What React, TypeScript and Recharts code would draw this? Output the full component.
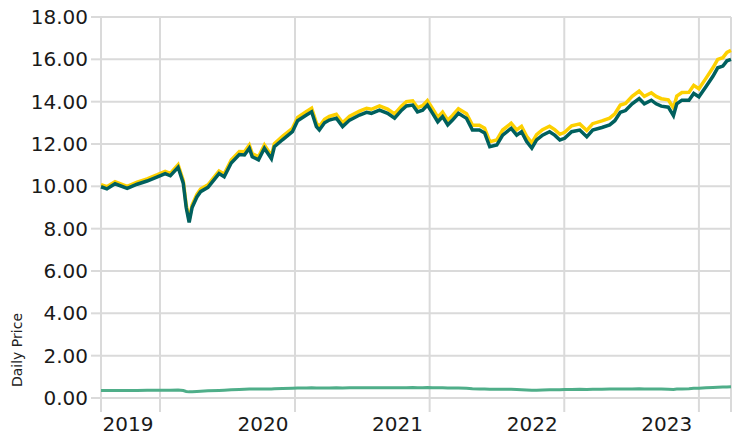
import { CartesianGrid, Label, Line, LineChart, XAxis, YAxis } from "recharts";

const dates = [
  "2019-07-25", "2019-08-10", "2019-09-01", "2019-10-04", "2019-10-31", "2019-11-27", "2019-12-25",
  "2020-01-15", "2020-01-29", "2020-02-19", "2020-03-04", "2020-03-12", "2020-03-20", "2020-03-28",
  "2020-04-10", "2020-04-20", "2020-05-10", "2020-06-09", "2020-06-23", "2020-07-12", "2020-08-03",
  "2020-08-17", "2020-08-30", "2020-09-07", "2020-09-24", "2020-10-10", "2020-10-29", "2020-11-06",
  "2020-11-28", "2020-12-25", "2021-01-08", "2021-02-01", "2021-02-15", "2021-02-28", "2021-03-08",
  "2021-03-22", "2021-04-04", "2021-04-23", "2021-05-10", "2021-05-29", "2021-06-25", "2021-07-14",
  "2021-07-27", "2021-08-18", "2021-09-09", "2021-09-28", "2021-10-17", "2021-10-30", "2021-11-16",
  "2021-11-29", "2021-12-13", "2021-12-26", "2022-01-09", "2022-01-23", "2022-02-05", "2022-02-19",
  "2022-03-04", "2022-03-20", "2022-04-11", "2022-04-27", "2022-05-16", "2022-05-30", "2022-06-13",
  "2022-07-02", "2022-07-18", "2022-08-10", "2022-08-25", "2022-09-07", "2022-09-21", "2022-10-05",
  "2022-10-18", "2022-11-03", "2022-11-22", "2022-12-06", "2022-12-20", "2023-01-02", "2023-01-21",
  "2023-02-12", "2023-03-03", "2023-03-19", "2023-04-13", "2023-05-04", "2023-05-18", "2023-06-02",
  "2023-06-16", "2023-07-04", "2023-07-23", "2023-08-06", "2023-08-25", "2023-09-07", "2023-09-21",
  "2023-10-10", "2023-10-24", "2023-11-02", "2023-11-16", "2023-12-05", "2023-12-18", "2024-01-01",
  "2024-01-20", "2024-02-08", "2024-02-21", "2024-03-06", "2024-03-17", "2024-03-28"
];

// teal line
const fund = [
  9.98, 9.88, 10.12, 9.9, 10.1, 10.25, 10.45,
  10.6, 10.5, 10.9, 10.15, 9.0, 8.3, 9.0,
  9.5, 9.75, 9.95, 10.6, 10.45, 11.1, 11.5,
  11.48, 11.8, 11.4, 11.25, 11.8, 11.3, 11.87,
  12.2, 12.58, 13.1, 13.37, 13.52, 12.82, 12.66,
  13.0, 13.13, 13.22, 12.82, 13.13, 13.37, 13.5,
  13.45, 13.6, 13.45, 13.22, 13.6, 13.8, 13.84,
  13.52, 13.6, 13.84, 13.45, 13.05, 13.29, 12.9,
  13.13, 13.45, 13.21, 12.66, 12.66, 12.52, 11.87,
  11.95, 12.42, 12.74, 12.42, 12.58, 12.11, 11.8,
  12.19, 12.42, 12.58, 12.42, 12.19, 12.27, 12.58,
  12.66, 12.34, 12.66, 12.78, 12.9, 13.1, 13.5,
  13.58, 13.9, 14.15, 13.9, 14.07, 13.9, 13.79,
  13.74, 13.34, 13.9, 14.07, 14.07, 14.39, 14.23,
  14.71, 15.2, 15.6, 15.68, 15.93, 16.0
];

// yellow line
const benchmark = [
  10.08, 9.98, 10.22, 10.0, 10.2, 10.35, 10.55,
  10.71, 10.61, 11.02, 10.27, 9.12, 8.42, 9.12,
  9.62, 9.87, 10.07, 10.72, 10.58, 11.24, 11.64,
  11.63, 11.95, 11.55, 11.4, 11.95, 11.45, 12.02,
  12.36, 12.74, 13.26, 13.54, 13.69, 12.99, 12.83,
  13.17, 13.3, 13.4, 13.0, 13.31, 13.55, 13.69,
  13.64, 13.8, 13.65, 13.42, 13.8, 14.0, 14.04,
  13.72, 13.81, 14.05, 13.67, 13.27, 13.51, 13.12,
  13.35, 13.67, 13.43, 12.89, 12.89, 12.75, 12.11,
  12.19, 12.66, 12.98, 12.67, 12.83, 12.36, 12.05,
  12.44, 12.68, 12.84, 12.68, 12.46, 12.55, 12.86,
  12.95, 12.64, 12.96, 13.09, 13.22, 13.43, 13.84,
  13.92, 14.25, 14.5, 14.25, 14.42, 14.25, 14.14,
  14.09, 13.7, 14.26, 14.43, 14.44, 14.77, 14.61,
  15.1, 15.6, 16.0, 16.08, 16.33, 16.42
];

// green line near zero
const income = [
  0.36, 0.36, 0.36, 0.36, 0.36, 0.37, 0.37,
  0.37, 0.37, 0.38, 0.35, 0.31, 0.29, 0.3,
  0.31, 0.32, 0.34, 0.36, 0.37, 0.39, 0.4,
  0.41, 0.42, 0.42, 0.42, 0.43, 0.43, 0.44,
  0.45, 0.46, 0.47, 0.47, 0.48, 0.47, 0.47,
  0.47, 0.47, 0.48, 0.47, 0.48, 0.48, 0.48,
  0.48, 0.49, 0.49, 0.48, 0.49, 0.49, 0.5,
  0.49, 0.49, 0.5, 0.49, 0.48, 0.48, 0.47,
  0.47, 0.47, 0.46, 0.44, 0.43, 0.43, 0.41,
  0.41, 0.41, 0.41, 0.4, 0.39, 0.38, 0.37,
  0.37, 0.38, 0.39, 0.39, 0.39, 0.4, 0.4,
  0.41, 0.4, 0.41, 0.41, 0.42, 0.42, 0.43,
  0.43, 0.43, 0.44, 0.43, 0.43, 0.42, 0.42,
  0.41, 0.4, 0.42, 0.43, 0.44, 0.46, 0.46,
  0.48, 0.5, 0.51, 0.52, 0.52, 0.53
];

const gridDates = ["2019-07-25", "2020-01-01", "2021-01-01", "2022-01-01", "2023-01-01", "2024-01-01", "2024-03-28"];
const yearLabelDates = ["2019-10-06", "2020-10-06", "2021-10-06", "2022-10-06", "2023-10-06"];
const yTicks = [0, 2, 4, 6, 8, 10, 12, 14, 16, 18];

const data = dates.map((d, i) => ({
  t: Date.parse(d),
  fund: fund[i],
  benchmark: benchmark[i],
  income: income[i]
}));

const gridTicks = gridDates.map((d) => Date.parse(d));
const domain = [Date.parse(dates[0]), Date.parse(dates[dates.length - 1])];
const gridColor = "#dadada";
const font = "DejaVu Sans, Verdana, sans-serif";

function YLabel({ viewBox }: any) {
  const x = viewBox.x + 17;
  const y = viewBox.y + viewBox.height - 48;
  return (
    <text
      x={x}
      y={y}
      transform={`rotate(-90 ${x} ${y})`}
      textAnchor="middle"
      dominantBaseline="central"
      fontSize={14}
      fontFamily={font}
      fill="#222"
    >
      Daily Price
    </text>
  );
}

export default function App() {
  return (
    <div style={{ position: "absolute", left: 0, top: 0, background: "#fff" }}>
      <LineChart width={737} height={435} data={data} margin={{ top: 17, right: 6, bottom: 0, left: 0 }}>
        <CartesianGrid xAxisId="g" stroke={gridColor} strokeWidth={2} verticalValues={gridTicks} />
        <XAxis
          xAxisId="g"
          dataKey="t"
          type="number"
          domain={domain}
          ticks={gridTicks}
          interval={0}
          height={14}
          tickSize={14}
          tick={() => <g />}
          tickLine={{ stroke: gridColor, strokeWidth: 2 }}
          axisLine={false}
        />
        <XAxis
          xAxisId="lab"
          dataKey="t"
          type="number"
          domain={domain}
          ticks={yearLabelDates.map((d) => Date.parse(d))}
          interval={0}
          height={23}
          tickSize={3}
          tickLine={false}
          axisLine={false}
          tick={{ fill: "#1a1a1a", fontSize: 20, fontFamily: font }}
          tickFormatter={(v: number) => String(new Date(v).getUTCFullYear())}
        />
        <YAxis
          domain={[0, 18]}
          ticks={yTicks}
          interval={0}
          width={101}
          tickSize={10}
          tickMargin={3}
          axisLine={false}
          tickLine={{ stroke: gridColor, strokeWidth: 2 }}
          tick={{ fill: "#1a1a1a", fontSize: 20, fontFamily: font }}
          tickFormatter={(v: number) => v.toFixed(2)}
        >
          <Label content={YLabel} />
        </YAxis>
        <Line xAxisId="g" type="linear" dataKey="benchmark" stroke="#fdd000" strokeWidth={3.5} dot={false} isAnimationActive={false} />
        <Line xAxisId="g" type="linear" dataKey="fund" stroke="#00605e" strokeWidth={3.5} dot={false} isAnimationActive={false} />
        <Line xAxisId="g" type="linear" dataKey="income" stroke="#4fae89" strokeWidth={3} dot={false} isAnimationActive={false} />
      </LineChart>
    </div>
  );
}
